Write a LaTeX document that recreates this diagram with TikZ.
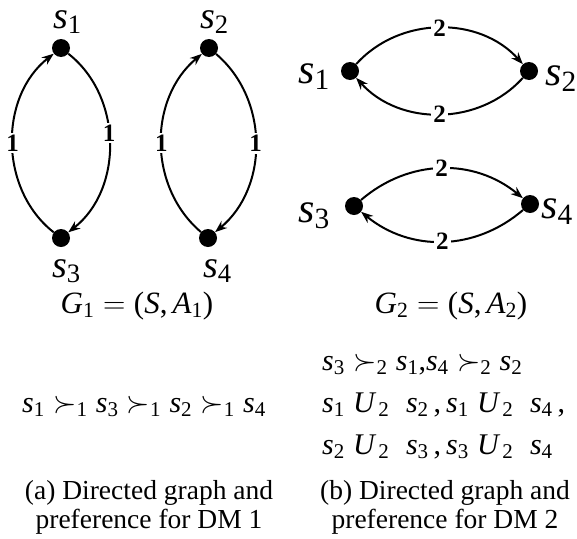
\RequirePackage{fix-cm}
\documentclass[tikz,border=0pt]{standalone}
\usepackage{amsmath}
\usepackage{fontspec}
\setmainfont{Liberation Serif}
\usetikzlibrary{arrows.meta}
\newcommand{\iv}[2]{\textit{#1}_{\text{#2}}}
\newcommand{\cm}{\text{,}}
\newcommand{\uu}{\;\textit{U}_{\,\text{2}}\;\;}
\begin{document}
\begin{tikzpicture}[x=1pt,y=-1pt,
  dot/.style={circle,fill=black,inner sep=0pt,minimum size=18pt},
  lbl/.style={font=\fontsize{38}{42}\selectfont,inner sep=0pt,anchor=base west},
  lblb/.style={font=\fontsize{42}{46}\selectfont,inner sep=0pt,anchor=base west},
  arc/.style={line width=2pt,-{Stealth[length=12pt,width=9pt]}},
  wl/.style={fill=white,inner sep=2pt,font=\fontsize{25}{27}\selectfont\bfseries},
  eq/.style={font=\fontsize{30}{34}\selectfont,inner sep=0pt},
  geq/.style={font=\fontsize{31}{35}\selectfont,inner sep=0pt,anchor=base},
  captext/.style={font=\fontsize{27.5}{32}\selectfont,inner sep=0pt,anchor=base}]
\useasboundingbox (0,0) rectangle (577,538);
% left graph
\node[dot] (a1) at (61,48) {};
\node[dot] (a3) at (61,238) {};
\node[dot] (a2) at (209,48) {};
\node[dot] (a4) at (208,238) {};
\node[lbl] (la1) at (53,28) {$\iv{s}{1}$};
\node[lbl] (la2) at (200,28) {$\iv{s}{2}$};
\node[lbl] (la3) at (52,277) {$\iv{s}{3}$};
\node[lbl] (la4) at (203,277) {$\iv{s}{4}$};
\draw[arc] (a3) to[bend left=52] node[wl]{1} (a1);
\draw[arc] (a1) to[bend left=52] node[wl,pos=0.45]{1} (a3);
\draw[arc] (a4) to[bend left=50] node[wl]{1} (a2);
\draw[arc] (a2) to[bend left=50] node[wl]{1} (a4);
% right graph
\node[dot] (b1) at (350,71) {};
\node[dot] (b2) at (529,71) {};
\node[dot] (b3) at (354,206) {};
\node[dot] (b4) at (530,204) {};
\node[lblb] (lb1) at (298,83) {$\iv{s}{1}$};
\node[lblb] (lb2) at (545,85) {$\iv{s}{2}$};
\node[lblb] (lb3) at (298,222) {$\iv{s}{3}$};
\node[lblb] (lb4) at (541,218) {$\iv{s}{4}$};
\draw[arc] (b1) to[bend left=48] node[wl]{2} (b2);
\draw[arc] (b2) to[bend left=48] node[wl]{2} (b1);
\draw[arc] (b3) to[bend left=40] node[wl]{2} (b4);
\draw[arc] (b4) to[bend left=40] node[wl]{2} (b3);
% formulas
\node[geq] (g1) at (137,313) {$\iv{G}{1} = \text{(}\textit{S}\cm\,\iv{A}{1}\text{)}$};
\node[geq] (g2) at (451,313) {$\iv{G}{2} = \text{(}\textit{S}\cm\,\iv{A}{2}\text{)}$};
\node[eq,anchor=base west] (p1) at (22,412) {$\iv{s}{1}\succ_{\text{1}}\iv{s}{3}\succ_{\text{1}}\iv{s}{2}\succ_{\text{1}}\iv{s}{4}$};
\node[eq,anchor=base west] (q1) at (322,370) {$\iv{s}{3}\succ_{\text{2}}\iv{s}{1}\cm\iv{s}{4}\succ_{\text{2}}\iv{s}{2}$};
\node[eq,anchor=base west] (q2) at (322,412) {$\iv{s}{1}\uu\iv{s}{2}\,\cm\,\iv{s}{1}\uu\iv{s}{4}\,\cm$};
\node[eq,anchor=base west] (q3) at (322,454) {$\iv{s}{2}\uu\iv{s}{3}\,\cm\,\iv{s}{3}\uu\iv{s}{4}$};
% captions
\node[captext] (c1) at (149,499) {(a) Directed graph and};
\node[captext] (c2) at (149,528) {preference for DM 1};
\node[captext] (c3) at (445,499) {(b) Directed graph and};
\node[captext] (c4) at (445,528) {preference for DM 2};
\end{tikzpicture}
\end{document}
